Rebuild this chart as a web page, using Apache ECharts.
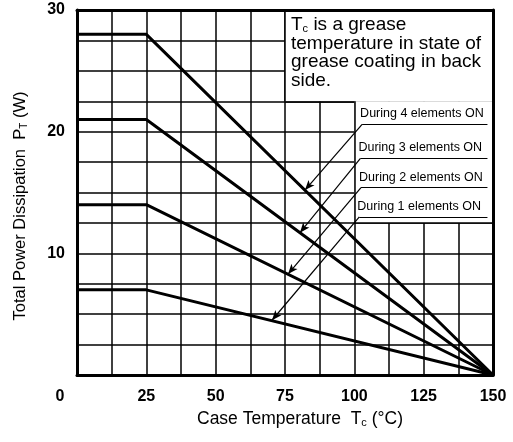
<!DOCTYPE html>
<html>
<head>
<meta charset="utf-8">
<script src="https://cdn.jsdelivr.net/npm/echarts@6/dist/echarts.min.js"></script>
<style>html,body{margin:0;padding:0;background:#fff;}#c{width:513px;height:442px;}</style>
</head>
<body>
<div id="c"></div>
<script>
// ---- data ----
const tempPoints = [0, 25, 150];
const curve4 = [28, 28, 0];
const curve3 = [21, 21, 0];
const curve2 = [14, 14, 0];
const curve1 = [7, 7, 0];
const curveNames = ['During 4 elements ON', 'During 3 elements ON', 'During 2 elements ON', 'During 1 elements ON'];
const xTickLabels = [0, 25, 50, 75, 100, 125, 150];
const yTickLabels = [10, 20, 30];
// leader lines (label start point -> arrow tip on curve)
const leaderStartX = [102.8, 102.2, 102.4, 101.8];
const leaderStartY = [20.6, 17.8, 15.4, 13.0];
const leaderTipX = [82.2, 80.4, 76.1, 70.3];
const leaderTipY = [15.2, 11.7, 8.3, 4.5];
const leaderEndX = 148;
const noteText = 'T{s|c} is a grease\ntemperature in state of\ngrease coating in back\nside.';

const FONT = "'Liberation Sans', Arial, Helvetica, sans-serif";
const chart = echarts.init(document.getElementById('c'), null, {renderer: 'canvas'});

function pts(ys) { return tempPoints.map((t, i) => [t, ys[i]]); }
const curveStyle = {color: '#000', width: 3};
const curves = [curve4, curve3, curve2, curve1].map((ys, i) => ({
  type: 'line', name: curveNames[i], data: pts(ys), symbol: 'none', z: 3,
  lineStyle: curveStyle, silent: true
}));

const leaderLines = [];
curveNames.forEach((nm, i) => {
  leaderLines.push([
    {coord: [leaderStartX[i], leaderStartY[i]], symbol: 'none'},
    {coord: [leaderTipX[i], leaderTipY[i]], symbol: 'arrow'}
  ]);
  leaderLines.push([
    {coord: [leaderStartX[i], leaderStartY[i]], symbol: 'none',
     label: {show: true, position: 'insideStartTop', formatter: nm, distance: 4, offset: [-6, 0],
             fontSize: 12.5, color: '#000', fontFamily: FONT}},
    {coord: [leaderEndX, leaderStartY[i]], symbol: 'none'}
  ]);
});

const gridStyle = {color: '#000', width: 1.5};

const option = {
  animation: false,
  backgroundColor: '#fff',
  grid: {left: 77, top: 10, right: 20, bottom: 67, containLabel: false},
  xAxis: [{
    type: 'value', min: 0, max: 150, interval: 12.5,
    axisLine: {show: true, lineStyle: {color: '#000', width: 3}},
    axisTick: {show: false},
    splitLine: {show: true, lineStyle: gridStyle},
    axisLabel: {
      margin: 14, fontSize: 16, fontWeight: 'bold', color: '#000', fontFamily: FONT,
      formatter: v => xTickLabels.includes(v) ? (v === 0 ? '{z|0}' : String(v)) : '',
      rich: {z: {padding: [0, 34, 0, 0], fontSize: 16, fontWeight: 'bold', color: '#000', fontFamily: FONT}}
    },
    name: 'Case Temperature  T{s|c} (°C)', nameLocation: 'middle', nameGap: 35,
    nameTextStyle: {fontSize: 17.5, color: '#000', fontFamily: FONT, padding: [0, 0, 0, 30],
      rich: {s: {fontSize: 11, color: '#000', fontFamily: FONT, verticalAlign: 'bottom'}}}
  }, {
    type: 'value', position: 'top', min: 0, max: 150, z: 10,
    axisLine: {show: true, onZero: false, lineStyle: {color: '#000', width: 3}},
    axisTick: {show: false}, axisLabel: {show: false}, splitLine: {show: false}
  }],
  yAxis: [{
    type: 'value', min: 0, max: 30, interval: 2.5,
    axisLine: {show: true, lineStyle: {color: '#000', width: 3}},
    axisTick: {show: false},
    splitLine: {show: true, lineStyle: gridStyle},
    axisLabel: {
      margin: 12, fontSize: 16, fontWeight: 'bold', color: '#000', fontFamily: FONT,
      formatter: v => yTickLabels.includes(v) ? String(v) : ''
    },
    name: 'Total Power Dissipation  P{s|T} (W)', nameLocation: 'middle', nameGap: 48,
    nameTextStyle: {fontSize: 16.5, color: '#000', fontFamily: FONT, padding: [0, 27, 0, 0],
      rich: {s: {fontSize: 10, color: '#000', fontFamily: FONT, verticalAlign: 'bottom'}}}
  }, {
    type: 'value', position: 'right', min: 0, max: 30, z: 10,
    axisLine: {show: true, onZero: false, lineStyle: {color: '#000', width: 3}},
    axisTick: {show: false}, axisLabel: {show: false}, splitLine: {show: false}
  }],
  series: [
    {
      type: 'line', name: 'note', data: [], z: 1, silent: true,
      markArea: {
        silent: true,
        itemStyle: {color: '#fff', borderWidth: 0},
        label: {show: false},
        data: [
          [{name: 'note', coord: [75, 30], label: {show: true, position: 'insideTopLeft', distance: 6,
             formatter: noteText, fontSize: 19, lineHeight: 18.5, color: '#000', fontFamily: FONT,
             rich: {s: {fontSize: 11, color: '#000', fontFamily: FONT, verticalAlign: 'bottom', lineHeight: 18.5}}}},
           {coord: [150, 22.5]}],
          [{name: 'labels', coord: [100, 22.5]}, {coord: [150, 12.5]}]
        ]
      },
      markLine: {
        silent: true, symbol: ['none', 'none'], label: {show: false},
        lineStyle: {color: '#000', width: 1.5, type: 'solid'},
        data: [
          [{coord: [75, 22.5]}, {coord: [75, 30]}],
          [{coord: [75, 22.5]}, {coord: [100, 22.5]}],
          [{coord: [100, 12.5]}, {coord: [100, 22.5]}],
          [{coord: [100, 12.5]}, {coord: [150, 12.5]}]
        ]
      }
    },
    ...curves,
    {
      type: 'line', name: 'leaders', data: [], z: 4, silent: true,
      markLine: {
        silent: true, symbol: ['none', 'none'], symbolSize: [6, 10],
        label: {show: false},
        lineStyle: {color: '#000', width: 1.2, type: 'solid'},
        data: leaderLines
      }
    }
  ]
};
chart.setOption(option);
</script>
</body>
</html>
